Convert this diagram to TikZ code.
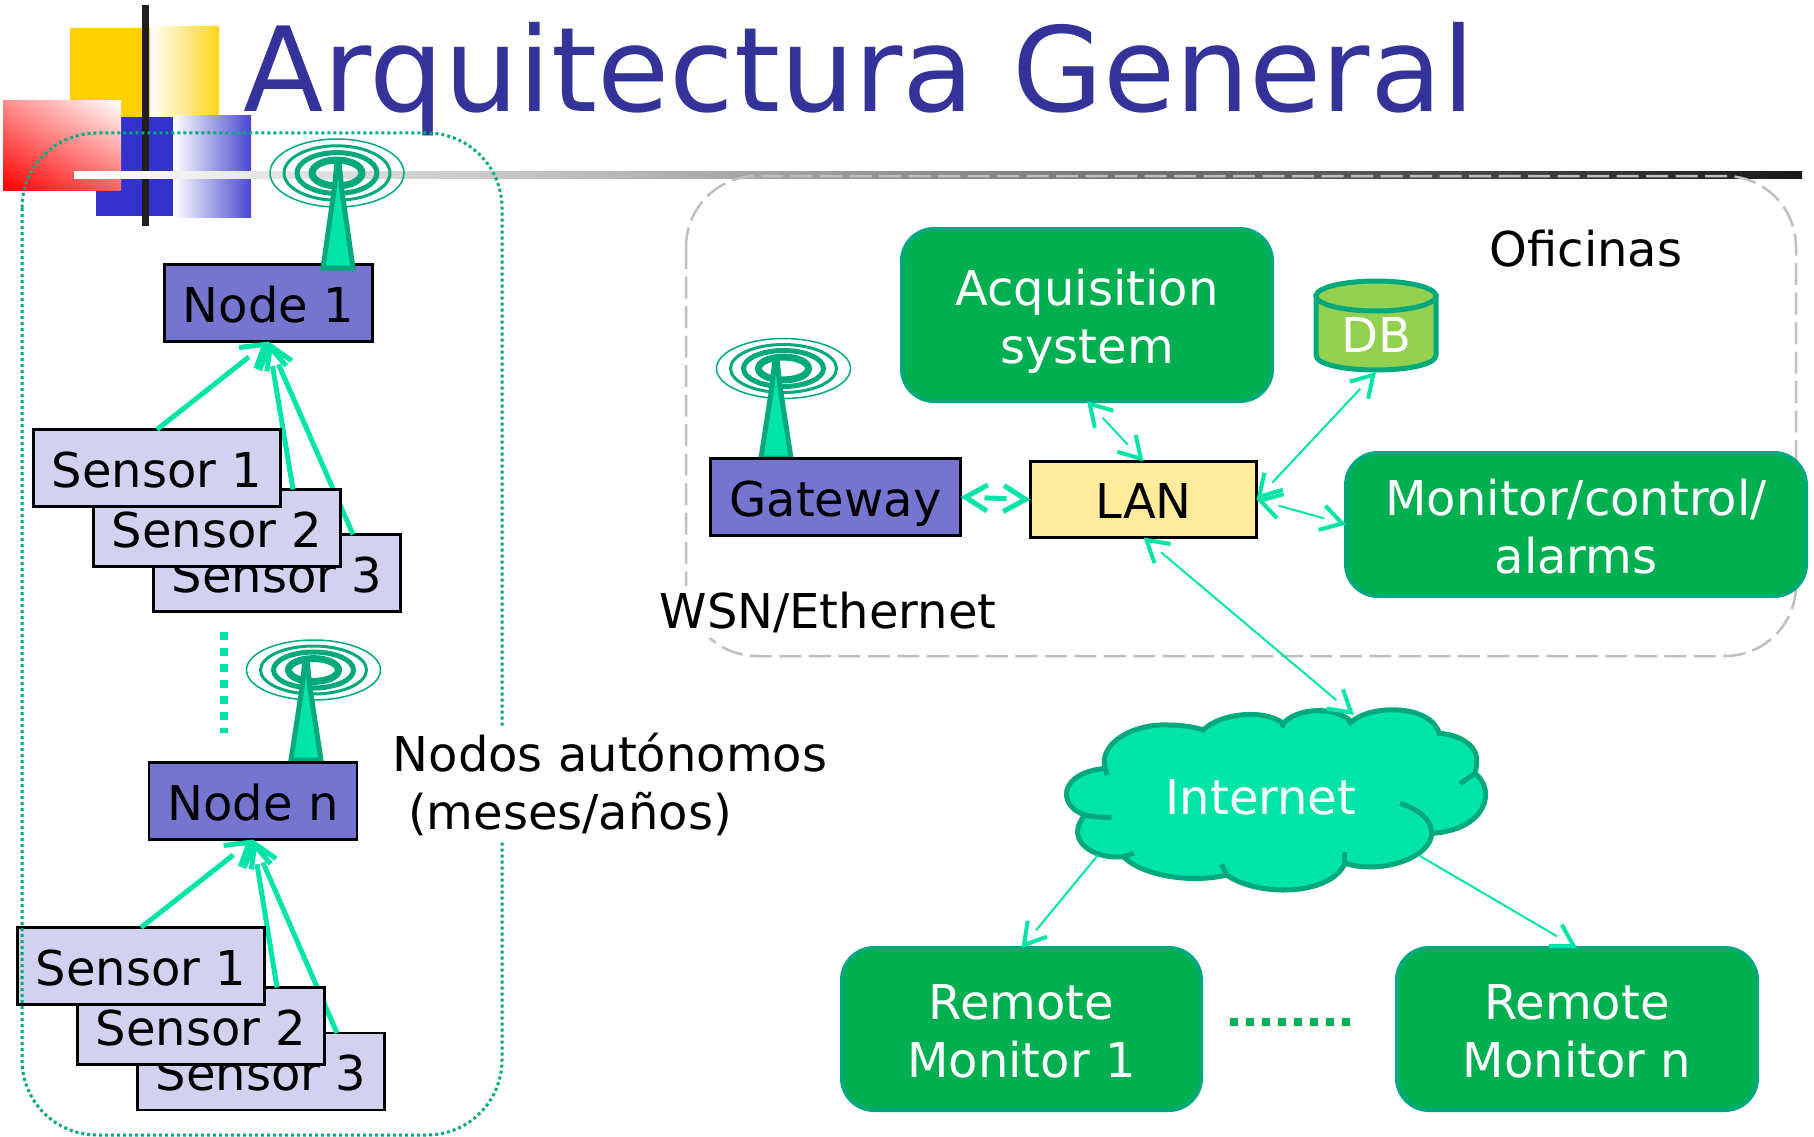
\documentclass[tikz,border=0pt]{standalone}
\usepackage{fontspec}
\setmainfont{DejaVu Sans}
\usepackage{tikz}
\usetikzlibrary{arrows.meta,shadings}

\definecolor{titleblue}{HTML}{333399}
\definecolor{mint}{HTML}{00E4A8}
\definecolor{teal}{HTML}{00A97C}
\definecolor{boxgreen}{HTML}{00B050}
\definecolor{nodeblue}{HTML}{7575D0}
\definecolor{sensorblue}{HTML}{D2D2F0}
\definecolor{lanyellow}{HTML}{FFEB99}
\definecolor{dbgreen}{HTML}{92D050}
\definecolor{logogold}{HTML}{FFD000}
\definecolor{logoblue}{HTML}{3333CC}

\tikzset{
  bigtext/.style={font=\fontsize{48}{58}\selectfont},
  label/.style={bigtext, align=left, inner sep=0pt},
  flatbox/.style={bigtext, draw=black, line width=2.7pt, inner sep=0pt, outer sep=0pt, text height=38pt, text depth=0pt},
  nodebox/.style={flatbox, fill=nodeblue, minimum width=208pt, minimum height=77pt},
  sensorbox/.style={flatbox, fill=sensorblue, minimum width=247pt, minimum height=77pt},
  greenbox/.style={bigtext, draw=teal, line width=4pt, fill=boxgreen, rounded corners=32pt, inner sep=0pt, outer sep=0pt, text=white, align=center},
  hidden/.style={draw=mint, dash pattern=on 0pt off 5000pt},
  thicklink/.style={hidden, line width=5pt, -{Straight Barb[length=22pt, width=27pt, line width=5pt]},
    postaction={draw, solid, arrows=-, shorten >=25pt}},
  gatelink/.style={hidden, line width=5pt, {Straight Barb[length=22pt, width=26pt, line width=5pt]}-{Straight Barb[length=22pt, width=26pt, line width=5pt]},
    postaction={draw, solid, arrows=-, shorten >=24pt, shorten <=24pt}},
  thinlink/.style={hidden, line width=2pt, {Straight Barb[length=21pt, width=25pt, line width=4pt]}-{Straight Barb[length=21pt, width=25pt, line width=4pt]},
    postaction={draw, solid, arrows=-, shorten >=23pt, shorten <=23pt}},
  onelink/.style={hidden, line width=2pt, -{Straight Barb[length=21pt, width=25pt, line width=4pt]},
    postaction={draw, solid, arrows=-, shorten >=23pt}},
}

% rings centred at #1,#2 with outer height #5, mast standing at #3,#4
\newcommand{\antenna}[5]{
  \draw[teal, line width=1.5pt] (#1,#2) circle [x radius=67, y radius=#5];
  \draw[teal, line width=3pt] (#1,#2) circle [x radius=53, y radius=#5*0.8];
  \draw[teal, line width=5pt] (#1,#2) circle [x radius=40, y radius=#5*0.6];
  \draw[teal, line width=7pt] (#1,#2) circle [x radius=25, y radius=#5*0.38];
  \draw[teal, fill=mint, line width=5pt] (#3-15,#4) -- (#3+15,#4) -- (#3+4,#2+18) -- (#3+1,#2-10) -- (#3-1,#2-10) -- (#3-4,#2+18) -- cycle;
}

\begin{document}
\begin{tikzpicture}[x=1pt, y=-1pt]
\useasboundingbox (0,0) rectangle (1814,1137);

% logo
\fill[logogold] (70,28) rectangle (150,117);
\shade[left color=white, right color=logogold!90!white] (150,27) rectangle (219,117);
\fill[logoblue] (96,117) rectangle (173,216);
\shade[left color=white, right color=logoblue!90!white] (173,116) rectangle (251,217);
\shade[lower left=red, upper right=white, upper left=red!45!white, lower right=red!60!white] (3,101) rectangle (121,190);
\fill[black!88] (142,5) rectangle (149,226);

\node[anchor=base west, inner sep=0pt, text=titleblue, font=\fontsize{117.4}{120}\selectfont] (title) at (243,112) {Arquitectura General};

% rule under the title
\shade[left color=white, middle color=black!44, right color=black!90] (74,171) rectangle (1802,178);

% areas
\draw[black!25, line width=2.5pt, dash pattern=on 22pt off 7.5pt, rounded corners=71pt] (686,176) rectangle (1796,656);

% first group
\draw[mint, line width=8pt, dash pattern=on 8pt off 8pt] (224,632) -- (224,733);
\node[nodebox] (node1) at (268.5,303) {Node 1};
\antenna{337}{173}{338}{268}{34}
\antenna{313.5}{670}{306}{760}{30}
\node[nodebox] (noden) at (253,801) {Node n};

\node[sensorbox] (s13) at (277,573) {Sensor 3};
\draw[thicklink] ([xshift=76pt]s13.north) -- (node1.south);
\node[sensorbox] (s12) at (217,528) {Sensor 2};
\draw[thicklink] ([xshift=76pt]s12.north) -- (node1.south);
\node[sensorbox] (s11) at (157,468) {Sensor 1};
\draw[thicklink] (s11.north) -- (node1.south);

\node[sensorbox] (sn3) at (261,1071.5) {Sensor 3};
\draw[thicklink] ([xshift=76pt]sn3.north) -- (noden.south);
\node[sensorbox] (sn2) at (201,1026) {Sensor 2};
\draw[thicklink] ([xshift=76pt]sn2.north) -- (noden.south);
\node[sensorbox] (sn1) at (141,966) {Sensor 1};
\draw[thicklink] (sn1.north) -- (noden.south);

\draw[teal, line width=3pt, dash pattern=on 3pt off 3pt, rounded corners=75pt] (22,133) rectangle (502,1135);

\node[label, fill=white, inner ysep=6pt] (autonomos) at (610,784) {Nodos autónomos\\ \ (meses/años)};
\node[label, fill=white, inner ysep=6pt] (wsn) at (828,612) {WSN/Ethernet};
\node[label] (oficinas) at (1586,249) {Oficinas};

% office
\node[greenbox, minimum width=370pt, minimum height=172pt] (acq) at (1087,315) {\rule{0pt}{48pt}Acquisition\\system};

\draw[teal, line width=5pt, fill=dbgreen] (1316,296) -- (1316,355) .. controls (1316,375) and (1436,375) .. (1436,355) -- (1436,296) -- cycle;
\draw[teal, line width=5pt, fill=dbgreen] (1376,296) circle [x radius=60, y radius=15];
\node[bigtext, inner sep=0pt, text=white, outer sep=0pt] (dbtext) at (1376,335) {DB};
\coordinate (db) at (1376,372);

\antenna{783.5}{368.5}{776}{458}{30}
\node[nodebox, minimum width=250pt] (gateway) at (835.5,497) {Gateway};
\node[flatbox, fill=lanyellow, minimum width=226pt, minimum height=76pt] (lan) at (1143.5,499.5) {LAN};
\node[greenbox, minimum width=460pt, minimum height=143pt] (monitor) at (1576,524.5) {\rule{0pt}{41pt}Monitor/control/\\alarms};

\draw[thinlink] (acq.south) -- (lan.north);
\draw[thinlink] (lan.east) -- (db);
\draw[thinlink] (lan.east) -- (monitor.west);
\draw[gatelink] (gateway.east) -- (lan.west);

% cloud
\begin{scope}[shift={(1030,680)}, x=0.3333pt, y=-0.3333pt]
\draw[teal, fill=mint, line width=5pt] (225,265) .. controls (205,190) and (310,130) .. (415,135) .. controls (450,135) and (490,140) .. (520,150)
  .. controls (570,100) and (700,85) .. (760,130)
  .. controls (800,85) and (910,75) .. (965,125)
  .. controls (1020,75) and (1200,70) .. (1228,160)
  .. controls (1300,165) and (1345,205) .. (1340,245) .. controls (1340,260) and (1338,270) .. (1335,280)
  .. controls (1400,330) and (1370,450) .. (1205,460)
  .. controls (1205,530) and (1060,585) .. (945,550)
  .. controls (900,650) and (680,650) .. (590,585)
  .. controls (490,610) and (340,590) .. (280,530)
  .. controls (190,540) and (100,480) .. (165,405)
  .. controls (85,380) and (80,280) .. (225,265) -- cycle;
\draw[teal, line width=5pt] (165,405) .. controls (190,412) and (220,412) .. (245,412);
\draw[teal, line width=5pt] (280,530) -- (312,520);
\draw[teal, line width=5pt] (575,553) -- (590,585);
\draw[teal, line width=5pt] (945,550) -- (945,515);
\draw[teal, line width=5pt] (1110,370) .. controls (1170,390) and (1205,420) .. (1205,460);
\draw[teal, line width=5pt] (1335,280) -- (1290,312);
\draw[teal, line width=5pt] (225,265) -- (232,285);
\draw[teal, line width=5pt] (1228,160) -- (1228,168);
\draw[teal, line width=5pt] (965,125) -- (955,132);
\draw[teal, line width=5pt] (760,130) -- (757,143);
\end{scope}
\node[bigtext, inner sep=0pt, text=white] (internet) at (1261,797) {Internet};

\coordinate (cloudtop) at (1354,715);
\coordinate (cloudleft) at (1098,855);
\coordinate (cloudright) at (1420,856);
\draw[thinlink] (lan.south) -- (cloudtop);

\node[greenbox, minimum width=359pt, minimum height=162pt] (remote1) at (1021.5,1029) {\rule{0pt}{39pt}Remote\\Monitor 1};
\node[greenbox, minimum width=360pt, minimum height=162pt] (remoten) at (1577,1029) {\rule{0pt}{39pt}Remote\\Monitor n};
\draw[onelink] (cloudleft) -- (remote1.north);
\draw[onelink] (cloudright) -- (remoten.north);
\draw[boxgreen, line width=8pt, dash pattern=on 8pt off 8pt] (remote1.east) ++(29,-7) -- ++(120,0);

\end{tikzpicture}
\end{document}
